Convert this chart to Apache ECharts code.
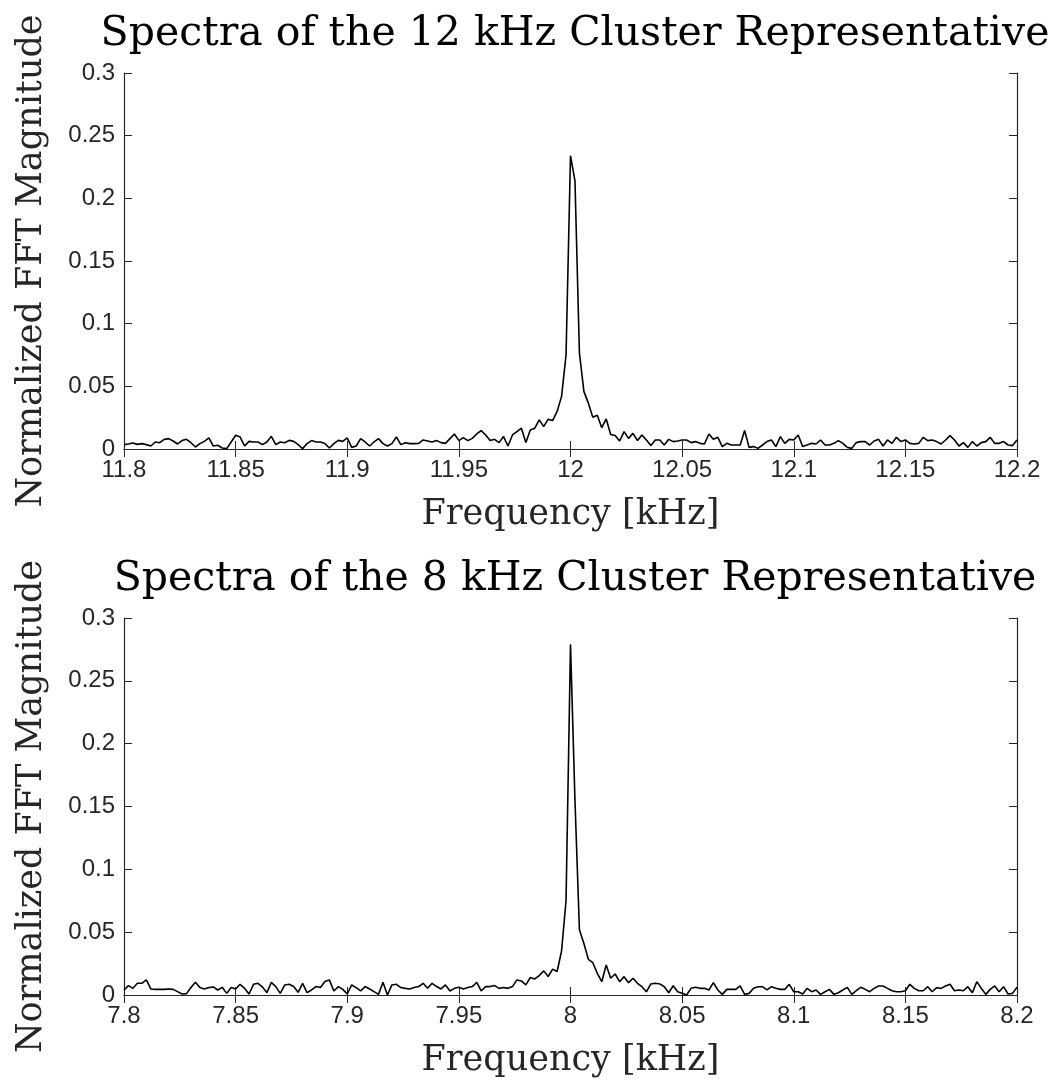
<!DOCTYPE html>
<html>
<head>
<meta charset="utf-8">
<script src="https://cdn.jsdelivr.net/npm/echarts@6/dist/echarts.min.js"></script>
<style>
html,body{margin:0;padding:0;background:#fff;}
#chart{width:1052px;height:1087px;}
</style>
</head>
<body>
<div id="chart"></div>
<script>
// ---- data ----
const titleTop = "Spectra of the 12 kHz Cluster Representative";
const titleBottom = "Spectra of the 8 kHz Cluster Representative";
const yLabel = "Normalized FFT Magnitude";
const xLabel = "Frequency [kHz]";

const freqStartTop = 11.8;
const freqStartBottom = 7.8;
const freqStep = 0.002; // sample spacing of the spectrum (kHz)

const magTop = [
.0035,.004,.0048,.0037,.0043,.0035,.0024,.0056,.005,.0077,
.0083,.0064,.004,.0067,.0077,.005,.0016,.0043,.0061,.0088,
.0024,.003,.0008,.0003,.0056,.011,.0096,.0024,.0061,.0056,
.0056,.0035,.0056,.0101,.0035,.0056,.005,.0069,.0061,.0035,
.0003,.0043,.0067,.0056,.0056,.0043,.0008,.0043,.0069,.0061,
.0088,.0013,.0024,.0083,.0056,.0024,.0056,.0083,.0043,.0024,
.0043,.0096,.0035,.005,.0043,.0043,
.0045,.0072,.0064,.0056,.0067,.0051,.0045,.0083,.012,.0067,
.0091,.0067,.0085,.012,.0147,.0112,.0067,.0077,.0051,.0099,
.0024,.0112,.0139,.0166,.0051,.0152,.0166,.0232,.0179,.0238,
.0227,.03,.042,.075,.234,.214,.0766,.046,.0366,.0253,.027,.017,.024,.0115,.0107,
.0064,.0139,.0085,.0125,.0067,.0112,.0072,.0027,.0072,.0072,
.0032,.0077,.0059,.0064,.0072,.0072,.0051,.0059,.0045,.004,
.012,.0077,.0093,.0019,.0045,.0032,.0032,.0032,.0147,.0013,
.0019,.0005,.0032,.0059,.0072,.0019,.0099,.0045,.0077,.0072,
.0112,.0019,.0032,.0045,.004,.0072,.0032,.0032,.0045,.0067,
.0045,.0013,.0005,.0051,.0059,.0059,.0032,.0064,.0077,.0024,
.0072,.0045,.0093,.0059,.0072,.0045,.004,.0045,.0093,.0067,
.0072,.0059,.004,.0072,.0107,.0072,.0024,.0051,.0013,.0059,
.0024,.0051,.0059,.0093,.0045,.0045,.0059,.0032,.0027,.0072
];

const magBottom = [
.004,.0075,.0053,.0093,.0093,.012,.0048,.0045,.0045,.0045,
.0048,.0045,.0027,.0008,.0011,.0059,.0101,.0059,.0048,.0059,
.0064,.004,.0061,.0013,.0059,.0048,.0085,.0053,.0008,.0085,
.0093,.0064,.0019,.0101,.0067,.0013,.008,.0085,.0067,.0021,
.0093,.0019,.004,.0067,.0059,.0107,.012,.0032,.0067,.0045,
.0008,.008,.0059,.0032,.0067,.0048,.0027,.0005,.0101,.0,
.008,.0085,.0059,.0053,.0048,.0059,.0067,.0093,.0053,.0093,
.0067,.0048,.008,.0032,.0053,.0061,.0048,.0059,.0067,.0101,
.0032,.0067,.0067,.0075,.0053,.0059,.0053,.0067,.012,.0112,
.008,.0139,.0128,.0155,.0192,.0147,.0206,.0187,
.035,.075,.279,.155,.052,.041,.0284,.0257,.0172,.0106,.0239,.0133,.0167,
.0106,.0146,.0098,.0133,.0093,.0066,.0026,.0088,.0093,.0088,
.0066,.0018,.0074,.0026,.0013,.0,.0053,.0061,.0053,.0053,
.004,.0098,.004,.0005,.0045,.0045,.0045,.0072,.0005,.0013,
.0053,.0066,.0066,.004,.0066,.0053,.0045,.0045,.0085,.0026,
.0026,.0008,.0053,.0026,.004,.0005,.0026,.0045,.0005,.0018,
.004,.0061,.0005,.0034,.0061,.0045,.0026,.0053,.0072,.0072,
.0053,.0034,.0026,.0026,.0034,.0085,.0053,.0034,.0034,.0066,
.0026,.0058,.0053,.0072,.0085,.0034,.004,.0034,.0066,.0018,
.0106,.0053,.0005,.0045,.0072,.0026,.0066,.0008,.0013,.0061
];

const xRangeTop = [11.8, 12.2];
const xRangeBottom = [7.8, 8.2];
const xInterval = 0.05;
const yRange = [0, 0.3];
const yInterval = 0.05;

// ---- build ----
function pairs(start, mags){
  return mags.map((m,i)=>[+(start + i*freqStep).toFixed(4), m]);
}
const fmt = v => String(parseFloat(v.toFixed(4)));

const AX = '#262626';
const tickFont = {fontFamily:'Liberation Sans, Arial, sans-serif', fontSize:24, color:AX};
const serif = 'DejaVu Serif, Liberation Serif, serif';

function xAxes(gridIndex, range){
  return [
    {type:'value', gridIndex, min:range[0], max:range[1], interval:xInterval,
     name:xLabel, nameLocation:'middle', nameGap:48,
     nameTextStyle:{fontFamily:serif, fontSize:35, color:AX},
     axisLine:{lineStyle:{color:AX,width:1.2}},
     axisTick:{inside:true,length:8,lineStyle:{color:AX}},
     axisLabel:Object.assign({margin:9, formatter:fmt}, tickFont),
     splitLine:{show:false}},
    {type:'value', gridIndex, position:'top', min:range[0], max:range[1], interval:xInterval,
     axisLine:{lineStyle:{color:AX,width:1.2}},
     axisTick:{inside:true,length:8,lineStyle:{color:AX}},
     axisLabel:{show:false}, splitLine:{show:false}}
  ];
}
function yAxes(gridIndex){
  return [
    {type:'value', gridIndex, min:yRange[0], max:yRange[1], interval:yInterval,
     name:yLabel, nameLocation:'middle', nameGap:75,
     nameTextStyle:{fontFamily:serif, fontSize:35, color:AX},
     axisLine:{show:true,lineStyle:{color:AX,width:1.2}},
     axisTick:{show:true,inside:true,length:8,lineStyle:{color:AX}},
     axisLabel:Object.assign({margin:9, formatter:fmt}, tickFont),
     splitLine:{show:false}},
    {type:'value', gridIndex, position:'right', min:yRange[0], max:yRange[1], interval:yInterval,
     axisLine:{show:true,lineStyle:{color:AX,width:1.2}},
     axisTick:{show:true,inside:true,length:8,lineStyle:{color:AX}},
     axisLabel:{show:false}, splitLine:{show:false}}
  ];
}

const chart = echarts.init(document.getElementById('chart'), null, {renderer:'canvas'});
chart.setOption({
  animation:false,
  backgroundColor:'#fff',
  title:[
    {text:titleTop, left:570, top:9, textAlign:'center',
     textStyle:{fontFamily:serif, fontSize:41, fontWeight:'normal', color:'#000'}},
    {text:titleBottom, left:570, top:554, textAlign:'center',
     textStyle:{fontFamily:serif, fontSize:41, fontWeight:'normal', color:'#000'}}
  ],
  grid:[
    {left:124, top:73, width:893, height:376},
    {left:124, top:618, width:893, height:377}
  ],
  xAxis:[...xAxes(0, xRangeTop), ...xAxes(1, xRangeBottom)],
  yAxis:[...yAxes(0), ...yAxes(1)],
  series:[
    {type:'line', xAxisIndex:0, yAxisIndex:0, data:pairs(freqStartTop, magTop),
     showSymbol:false, lineStyle:{color:'#000', width:1.6}},
    {type:'line', xAxisIndex:2, yAxisIndex:2, data:pairs(freqStartBottom, magBottom),
     showSymbol:false, lineStyle:{color:'#000', width:1.6}}
  ]
});
</script>
</body>
</html>
